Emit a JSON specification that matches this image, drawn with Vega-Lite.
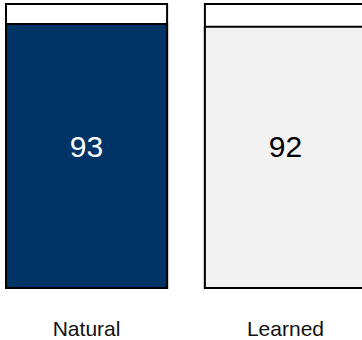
{
  "$schema": "https://vega.github.io/schema/vega-lite/v6.json",
  "width": 362,
  "height": 288,
  "autosize": "none",
  "padding": {"left": 0, "top": 0, "right": 0, "bottom": 52},
  "background": "#ffffff",
  "config": {
    "view": {"stroke": null},
    "font": "Liberation Sans"
  },
  "data": {
    "values": [
      {"category": "Natural", "value": 93, "full": 100},
      {"category": "Learned", "value": 92, "full": 100}
    ]
  },
  "encoding": {
    "x": {
      "field": "category",
      "type": "nominal",
      "sort": null,
      "scale": {"range": [6, 366], "paddingInner": 0.19, "paddingOuter": 0},
      "axis": {
        "title": null,
        "domain": false,
        "ticks": false,
        "labelAngle": 0,
        "labelPadding": 30,
        "labelFontSize": 21,
        "labelFont": "Liberation Sans",
        "labelColor": "#111111"
      }
    }
  },
  "layer": [
    {
      "mark": {"type": "rect", "fill": "#ffffff", "stroke": "#000000", "strokeWidth": 2},
      "encoding": {
        "y": {"field": "full", "type": "quantitative", "scale": {"domain": [0, 100], "range": [288, 4]}, "axis": null},
        "y2": {"datum": 0}
      }
    },
    {
      "mark": {"type": "rect", "stroke": "#000000", "strokeWidth": 2},
      "encoding": {
        "y": {"field": "value", "type": "quantitative"},
        "y2": {"datum": 0},
        "fill": {
          "field": "category",
          "type": "nominal",
          "scale": {"domain": ["Natural", "Learned"], "range": ["#003366", "#f2f2f2"]},
          "legend": null
        }
      }
    },
    {
      "mark": {"type": "text", "fontSize": 30, "font": "Liberation Sans", "baseline": "middle", "dy": 2},
      "encoding": {
        "y": {"datum": 50},
        "text": {"field": "value", "type": "quantitative"},
        "color": {
          "field": "category",
          "type": "nominal",
          "scale": {"domain": ["Natural", "Learned"], "range": ["#ffffff", "#000000"]},
          "legend": null
        }
      }
    }
  ],
  "resolve": {"scale": {"color": "independent"}}
}
